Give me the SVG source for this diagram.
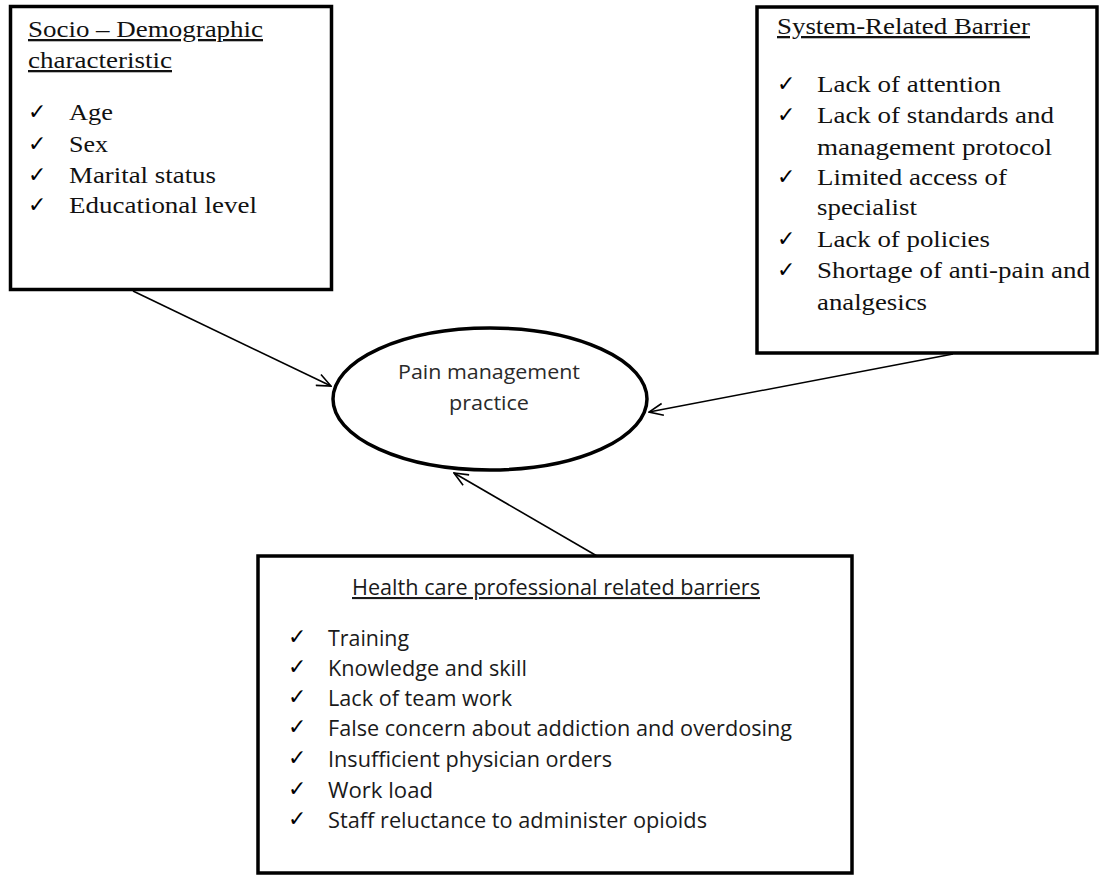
<svg xmlns="http://www.w3.org/2000/svg" width="1101" height="875" viewBox="0 0 1101 875">
<style>
.box{fill:#fff;stroke:#000;stroke-width:3.5}
.ell{fill:#fff;stroke:#000;stroke-width:3.5}
.serif{font-family:"Liberation Serif","Times New Roman",serif;font-size:23px;fill:#111}
.sans{font-family:"Open Sans","Liberation Sans",sans-serif;font-size:21px;fill:#1a1a1a}
.ctr{font-family:"Open Sans","Liberation Sans",sans-serif;font-size:20px;fill:#2a2a2a;text-anchor:middle}
.chk{font-family:"DejaVu Sans",sans-serif;font-size:22px;fill:#000}
.ul{text-decoration:underline}
.conn{stroke:#000;stroke-width:1.6;fill:none}
</style>
<defs>
<marker id="arr" markerUnits="userSpaceOnUse" viewBox="0 0 16 14" refX="15" refY="7" markerWidth="16" markerHeight="14" orient="auto">
<path d="M1,1 L15,7 L1,13" fill="none" stroke="#000" stroke-width="1.6"/>
</marker>
</defs>

<g id="connectors">
<line class="conn" x1="133" y1="291" x2="331" y2="386" marker-end="url(#arr)"/>
<line class="conn" x1="953" y1="354" x2="649" y2="412" marker-end="url(#arr)"/>
<line class="conn" x1="597" y1="556" x2="454" y2="473" marker-end="url(#arr)"/>
</g>

<g id="socio-demographic">
<rect class="box" x="10.5" y="6.5" width="321" height="283"/>
<text class="serif ul" x="28" y="37" textLength="235" lengthAdjust="spacingAndGlyphs">Socio – Demographic</text>
<text class="serif ul" x="28" y="68" textLength="144" lengthAdjust="spacingAndGlyphs">characteristic</text>
<text class="chk" x="28" y="119">✓</text>
<text class="serif" x="69" y="120" textLength="44" lengthAdjust="spacingAndGlyphs">Age</text>
<text class="chk" x="28" y="151">✓</text>
<text class="serif" x="69" y="152" textLength="39" lengthAdjust="spacingAndGlyphs">Sex</text>
<text class="chk" x="28" y="182">✓</text>
<text class="serif" x="69" y="183" textLength="147" lengthAdjust="spacingAndGlyphs">Marital status</text>
<text class="chk" x="28" y="212">✓</text>
<text class="serif" x="69" y="213" textLength="188" lengthAdjust="spacingAndGlyphs">Educational level</text>
</g>

<g id="system-related">
<rect class="box" x="757" y="7" width="340" height="346"/>
<text class="serif ul" x="777" y="34" textLength="253" lengthAdjust="spacingAndGlyphs">System-Related Barrier</text>
<text class="chk" x="777" y="91">✓</text>
<text class="serif" x="817" y="92" textLength="184" lengthAdjust="spacingAndGlyphs">Lack of attention</text>
<text class="chk" x="777" y="122">✓</text>
<text class="serif" x="817" y="123" textLength="237" lengthAdjust="spacingAndGlyphs">Lack of standards and</text>
<text class="serif" x="817" y="155" textLength="235" lengthAdjust="spacingAndGlyphs">management protocol</text>
<text class="chk" x="777" y="184">✓</text>
<text class="serif" x="817" y="185" textLength="190" lengthAdjust="spacingAndGlyphs">Limited access of</text>
<text class="serif" x="817" y="215" textLength="100" lengthAdjust="spacingAndGlyphs">specialist</text>
<text class="chk" x="777" y="246">✓</text>
<text class="serif" x="817" y="247" textLength="173" lengthAdjust="spacingAndGlyphs">Lack of policies</text>
<text class="chk" x="777" y="277">✓</text>
<text class="serif" x="817" y="278" textLength="273" lengthAdjust="spacingAndGlyphs">Shortage of anti-pain and</text>
<text class="serif" x="817" y="310" textLength="110" lengthAdjust="spacingAndGlyphs">analgesics</text>
</g>

<g id="pain-management">
<ellipse class="ell" cx="490" cy="399" rx="157" ry="71"/>
<text class="ctr" x="489" y="379" textLength="182" lengthAdjust="spacingAndGlyphs">Pain management</text>
<text class="ctr" x="489" y="410" textLength="80" lengthAdjust="spacingAndGlyphs">practice</text>
</g>

<g id="health-care-professional">
<rect class="box" x="258" y="556" width="594" height="317"/>
<text class="sans ul" x="352" y="595" textLength="408" lengthAdjust="spacingAndGlyphs">Health care professional related barriers</text>
<text class="chk" x="288" y="644">✓</text>
<text class="sans" x="328" y="646" textLength="81" lengthAdjust="spacingAndGlyphs">Training</text>
<text class="chk" x="288" y="674">✓</text>
<text class="sans" x="328" y="676" textLength="199" lengthAdjust="spacingAndGlyphs">Knowledge and skill</text>
<text class="chk" x="288" y="704">✓</text>
<text class="sans" x="328" y="706" textLength="184" lengthAdjust="spacingAndGlyphs">Lack of team work</text>
<text class="chk" x="288" y="734">✓</text>
<text class="sans" x="328" y="736" textLength="464" lengthAdjust="spacingAndGlyphs">False concern about addiction and overdosing</text>
<text class="chk" x="288" y="765">✓</text>
<text class="sans" x="328" y="767" textLength="284" lengthAdjust="spacingAndGlyphs">Insufficient physician orders</text>
<text class="chk" x="288" y="796">✓</text>
<text class="sans" x="328" y="798" textLength="105" lengthAdjust="spacingAndGlyphs">Work load</text>
<text class="chk" x="288" y="826">✓</text>
<text class="sans" x="328" y="828" textLength="379" lengthAdjust="spacingAndGlyphs">Staff reluctance to administer opioids</text>
</g>
</svg>
